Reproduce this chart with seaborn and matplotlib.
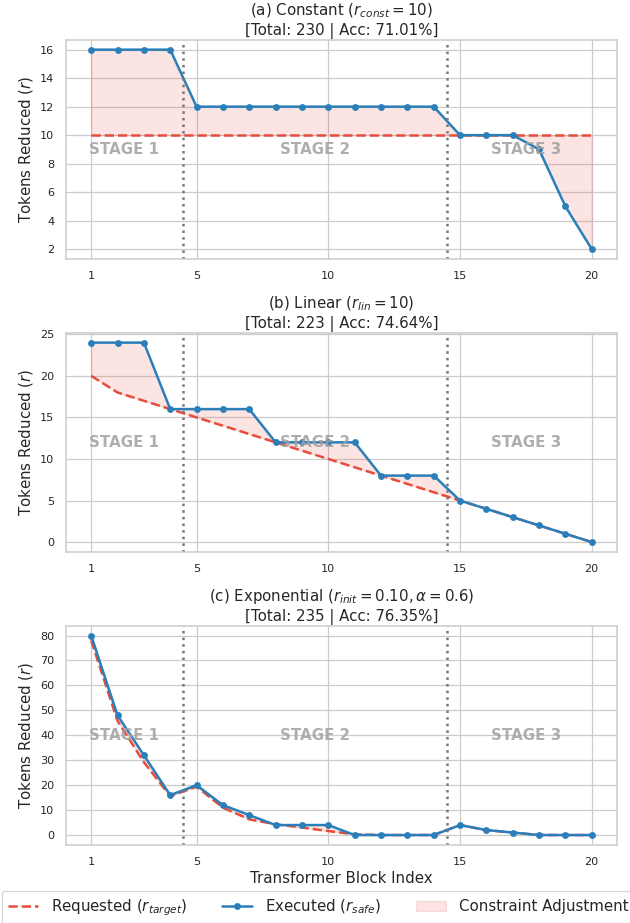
import numpy as np
import pandas as pd
import matplotlib
matplotlib.use("Agg")
import matplotlib.pyplot as plt
import seaborn as sns

blocks = list(range(1, 21))

req_const = [10] * 20
exe_const = [16, 16, 16, 16, 12, 12, 12, 12, 12, 12, 12, 12, 12, 12, 10, 10, 10, 9, 5, 2]

req_lin = [20, 18, 17, 16, 15, 14, 13, 12, 11, 10, 9, 8, 7, 6, 5, 4, 3, 2, 1, 0]
exe_lin = [24, 24, 24, 16, 16, 16, 16, 12, 12, 12, 12, 8, 8, 8, 5, 4, 3, 2, 1, 0]

req_exp = [78, 45.8, 29.2, 15.6, 19.4, 11.0, 6.3, 4.3, 3.0, 1.6, 0.3, 0, 0, 0, 4, 2, 1, 0, 0, 0]
exe_exp = [80, 48, 32, 16, 20, 12, 8, 4, 4, 4, 0, 0, 0, 0, 4, 2, 1, 0, 0, 0]

titles = [
    "(a) Constant ($r_{const} = 10$)\n[Total: 230 | Acc: 71.01%]",
    "(b) Linear ($r_{lin} = 10$)\n[Total: 223 | Acc: 74.64%]",
    "(c) Exponential ($r_{init} = 0.10, \\alpha = 0.6$)\n[Total: 235 | Acc: 76.35%]",
]
stage_names = ["STAGE 1", "STAGE 2", "STAGE 3"]
stage_bounds = [0, 4.5, 14.5, 20.5]
x_ticks = [1, 5, 10, 15, 20]

sns.set_theme(style="whitegrid")
plt.rcParams['font.family'] = ['DejaVu Sans']

RED = "#e74c3c"
BLUE = "#2a7fba"

fig, axes = plt.subplots(3, 1, figsize=(7, 923 / 90), dpi=90)
fig.subplots_adjust(left=0.105, right=0.979, top=0.957, bottom=0.0845, hspace=0.335)

series = [(req_const, exe_const), (req_lin, exe_lin), (req_exp, exe_exp)]
for i, (ax, (req, exe), title) in enumerate(zip(axes, series, titles)):
    df = pd.DataFrame({"block": blocks, "req": req, "exe": exe})
    ax.fill_between(df["block"], df["req"], df["exe"], color=RED, alpha=0.15,
                    label="Constraint Adjustment")
    sns.lineplot(data=df, x="block", y="req", ax=ax, color=RED, linestyle="--",
                 linewidth=2, label="Requested ($r_{target}$)", legend=False)
    sns.lineplot(data=df, x="block", y="exe", ax=ax, color=BLUE, linewidth=2,
                 marker="o", markersize=5.5, markeredgewidth=0,
                 label="Executed ($r_{safe}$)", legend=False)
    for b in stage_bounds[1:3]:
        ax.axvline(b, color="#777777", linestyle=":", linewidth=2)
    for k, name in enumerate(stage_names):
        cx = (stage_bounds[k] + stage_bounds[k + 1]) / 2
        ax.text(cx, 0.5, name, transform=ax.get_xaxis_transform(), ha="center",
                va="center", fontsize=12, fontweight="bold", color="#a0a0a0", alpha=0.85)
    ax.set_title(title, fontsize=12, pad=4)
    ax.set_xticks(x_ticks)
    ax.set_ylabel("Tokens Reduced ($r$)", fontsize=12, labelpad=4)
    ax.tick_params(labelsize=9, pad=3.5)
    if i == 2:
        ax.set_xlabel("Transformer Block Index", fontsize=12, labelpad=3)
    else:
        ax.set_xlabel("")

axes[0].set_yticks([2, 4, 6, 8, 10, 12, 14, 16])
axes[1].set_yticks([0, 5, 10, 15, 20, 25])
axes[2].set_yticks([0, 10, 20, 30, 40, 50, 60, 70, 80])

handles, labels = axes[0].get_legend_handles_labels()
order = [labels.index("Requested ($r_{target}$)"), labels.index("Executed ($r_{safe}$)"),
         labels.index("Constraint Adjustment")]
fig.legend([handles[o] for o in order], [labels[o] for o in order], loc="lower center",
           bbox_to_anchor=(0.505, -0.009), ncol=3, fontsize=12, frameon=True,
           columnspacing=2.3, handletextpad=0.9)

fig.savefig("out.png", dpi=90)
